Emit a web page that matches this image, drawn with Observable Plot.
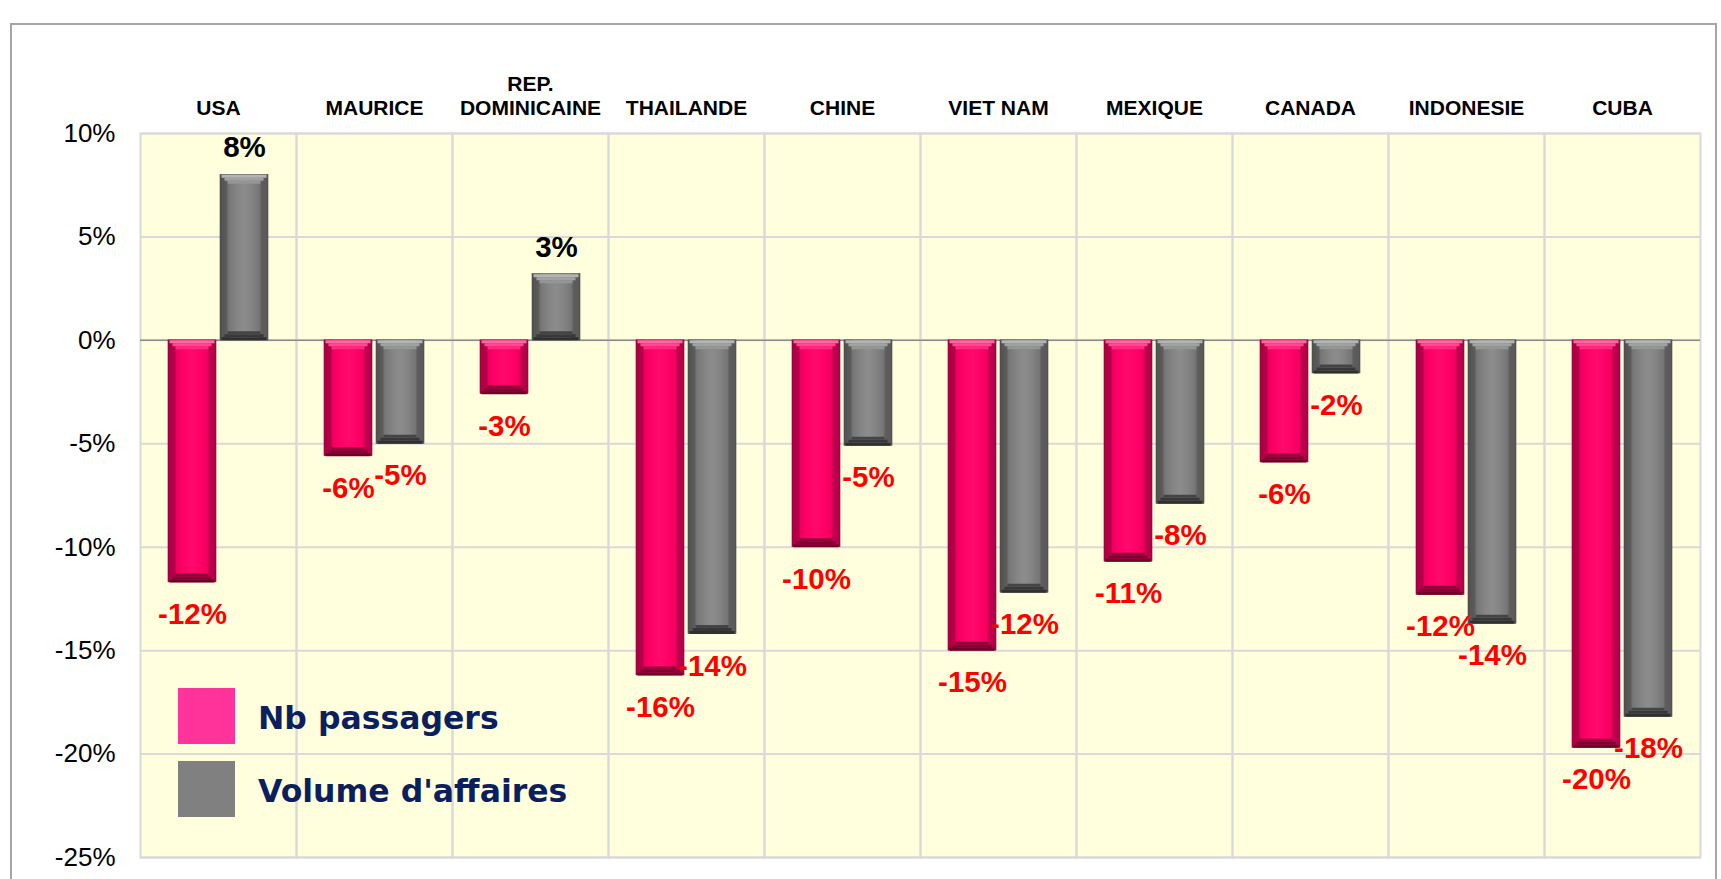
<!DOCTYPE html>
<html>
<head>
<meta charset="utf-8">
<script src="https://cdn.jsdelivr.net/npm/d3@7"></script>
<script src="https://cdn.jsdelivr.net/npm/@observablehq/plot@0.6"></script>
<style>
  html, body { margin: 0; padding: 0; background: #ffffff; overflow: hidden; }
  #wrap { position: relative; width: 1721px; height: 879px; overflow: hidden; }
  #border { position: absolute; left: 10px; top: 23px; width: 1707px; height: 900px;
            border: 2.5px solid #a6a6a6; box-sizing: border-box; }
  #chart { position: absolute; left: 0; top: 0; }
  .legend { position: absolute; left: 178px; font-family: "DejaVu Sans", Verdana, sans-serif;
            font-weight: bold; font-size: 31.5px; color: #0b1f5e; }
  .legend .sw { position: absolute; left: 0; width: 57px; height: 56px; }
  .legend .lbl { position: absolute; left: 80px; white-space: nowrap; line-height: 1; }
</style>
</head>
<body>
<div id="wrap">
  <div id="border"></div>
  <div id="chart"></div>
  <div id="legend"></div>
</div>
<script>
// ---- data ----
const countries = ["USA", "MAURICE", "REP. DOMINICAINE", "THAILANDE", "CHINE",
                   "VIET NAM", "MEXIQUE", "CANADA", "INDONESIE", "CUBA"];
const seriesNames = ["Nb passagers", "Volume d'affaires"];
const passagers = [-11.7, -5.6, -2.6, -16.2, -10.0, -15.0, -10.7, -5.9, -12.3, -19.7];
const affaires  = [  8.0, -5.0,  3.2, -14.2,  -5.1, -12.2,  -7.9, -1.6, -13.7, -18.2];
const yTicks = [-25, -20, -15, -10, -5, 0, 5, 10];

const rows = [];
countries.forEach((c, i) => {
  rows.push({country: c, series: seriesNames[0], value: passagers[i]});
  rows.push({country: c, series: seriesNames[1], value: affaires[i]});
});

const styles = {
  "Nb passagers":      {body: "url(#pinkBody)", edge: "#8a0038", top: ["#ff6aa6", "#ff4a92", "#ff2a7e"], bottom: ["#6e002a", "#7e0031", "#900039"], legend: "#ff3399"},
  "Volume d'affaires": {body: "url(#grayBody)", edge: "#4a4a4a", top: ["#b4b4b4", "#a2a2a2", "#959595"], bottom: ["#303030", "#383838", "#444444"], legend: "#808080"}
};

const upperY = d => Math.max(d.value, 0);
const lowerY = d => Math.min(d.value, 0);

const marks = [
  Plot.frame({fill: "#ffffdd", stroke: null}),
  Plot.gridY(yTicks, {stroke: "#d9d9d9", strokeOpacity: 1, strokeWidth: 2}),
  Plot.frame({stroke: "#d9d9d9", strokeWidth: 2}),
  Plot.ruleY([0], {stroke: "#8c8c8c", strokeWidth: 1.5})
];

for (const s of seriesNames) {
  const st = styles[s];
  const data = rows.filter(d => d.series === s);
  marks.push(Plot.barY(data, {fx: "country", x: "series", y1: 0, y2: "value",
    fill: st.body, stroke: st.edge, strokeWidth: 0.6}));
  const steps = [1.5, 4.5, 7.5];
  steps.forEach((k, j) => {
    marks.push(Plot.tickY(data, {fx: "country", x: "series", y: upperY, dy: k,
      stroke: st.top[j], strokeWidth: 3, insetLeft: k, insetRight: k}));
    marks.push(Plot.tickY(data, {fx: "country", x: "series", y: lowerY, dy: -k,
      stroke: st.bottom[j], strokeWidth: 3, insetLeft: k, insetRight: k}));
  });
}

marks.push(
  Plot.text(rows, {filter: d => d.value < 0, fx: "country", x: "series", y: "value",
    text: d => `${-Math.round(-d.value)}%`, dy: 32, fill: "#ff0000",
    fontSize: 29.5, fontWeight: "bold", fontFamily: "Liberation Sans, Arial, sans-serif"}),
  Plot.text(rows, {filter: d => d.value >= 0, fx: "country", x: "series", y: "value",
    text: d => `${Math.round(d.value)}%`, dy: -27, fill: "#000000",
    fontSize: 29.5, fontWeight: "bold", fontFamily: "Liberation Sans, Arial, sans-serif"}),
  Plot.axisY({ticks: yTicks, tickFormat: d => `${d}%`, tickSize: 0, tickPadding: 25,
    fontSize: 26, label: null, fill: "#000"}),
  Plot.axisFx({anchor: "top", tickSize: 0, tickPadding: 19, label: null,
    fontSize: 21, fontWeight: "bold", lineHeight: 1.1,
    tickFormat: d => d.replace("REP. ", "REP.\n")})
);

const chart = Plot.plot({
  width: 1721, height: 879,
  marginLeft: 138, marginRight: 19, marginTop: 133, marginBottom: 22,
  fx: {domain: countries, padding: 0, label: null},
  x: {domain: seriesNames, axis: null, paddingInner: 0.07, paddingOuter: 0.53},
  y: {domain: [-25, 10], label: null},
  style: {fontFamily: "Liberation Sans, Arial, sans-serif", background: "transparent", color: "#000"},
  marks
});

// gradient definitions for bar bodies
const svgEl = chart.tagName.toLowerCase() === "svg" ? chart : chart.querySelector("svg");
const defs = d3.select(svgEl).insert("defs", ":first-child");
function grad(id, stops) {
  const g = defs.append("linearGradient").attr("id", id)
    .attr("x1", "0%").attr("x2", "100%").attr("y1", "0%").attr("y2", "0%");
  stops.forEach(([o, c]) => g.append("stop").attr("offset", o).attr("stop-color", c));
}
grad("pinkBody", [["0%", "#a8003f"], ["14%", "#b8004a"], ["18%", "#f00060"], ["30%", "#ff0066"],
                  ["50%", "#ff0a6c"], ["70%", "#ff0066"], ["82%", "#f00060"], ["86%", "#c2004e"], ["100%", "#b0004a"]]);
grad("grayBody", [["0%", "#505050"], ["14%", "#5c5c5c"], ["18%", "#767676"], ["35%", "#858585"],
                  ["50%", "#8c8c8c"], ["65%", "#858585"], ["82%", "#767676"], ["86%", "#5e5e5e"], ["100%", "#585858"]]);

document.getElementById("chart").appendChild(chart);

// legend
const leg = document.getElementById("legend");
leg.className = "legend";
leg.style.top = "0px";
const legendTops = [688, 761];
seriesNames.forEach((s, i) => {
  const sw = document.createElement("div");
  sw.className = "sw";
  sw.style.top = legendTops[i] + "px";
  sw.style.background = styles[s].legend;
  leg.appendChild(sw);
  const lb = document.createElement("div");
  lb.className = "lbl";
  lb.style.top = (legendTops[i] + 15) + "px";
  lb.textContent = s;
  leg.appendChild(lb);
});
</script>
</body>
</html>
